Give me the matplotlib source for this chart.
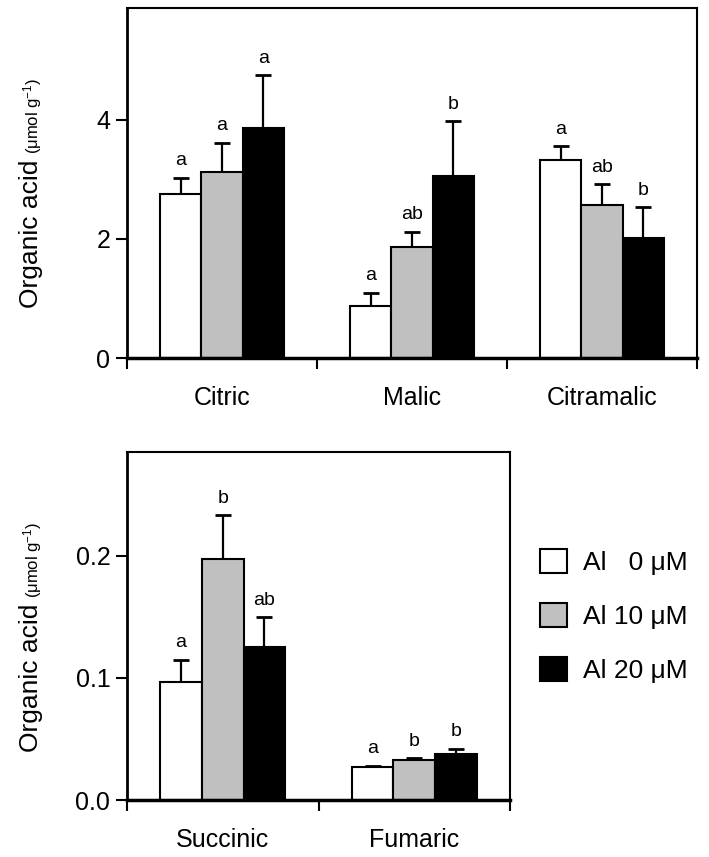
import matplotlib
matplotlib.use("Agg")
import matplotlib.pyplot as plt
from matplotlib.patches import Patch
import numpy as np

plt.rcParams['font.family'] = ['Liberation Sans', 'DejaVu Sans']
plt.rcParams['mathtext.fontset'] = 'custom'
plt.rcParams['mathtext.rm'] = 'Liberation Sans'

# ---------------- data ----------------
top_categories = ["Citric", "Malic", "Citramalic"]
top_al0 = [2.75, 0.87, 3.32]
top_al10 = [3.13, 1.87, 2.57]
top_al20 = [3.87, 3.05, 2.02]
top_err0 = [0.28, 0.23, 0.24]
top_err10 = [0.49, 0.25, 0.35]
top_err20 = [0.88, 0.93, 0.51]
top_letters0 = ["a", "a", "a"]
top_letters10 = ["a", "ab", "ab"]
top_letters20 = ["a", "b", "b"]

bot_categories = ["Succinic", "Fumaric"]
bot_al0 = [0.097, 0.027]
bot_al10 = [0.197, 0.033]
bot_al20 = [0.125, 0.038]
bot_err0 = [0.018, 0.001]
bot_err10 = [0.036, 0.001]
bot_err20 = [0.025, 0.004]
bot_letters0 = ["a", "a"]
bot_letters10 = ["b", "b"]
bot_letters20 = ["ab", "b"]

series_labels = ["Al   0 \u03bcM", "Al 10 \u03bcM", "Al 20 \u03bcM"]
series_colors = ["white", "#c0c0c0", "black"]

top_yticks = [0, 2, 4]
top_yticklabels = ["0", "2", "4"]
bot_yticks = [0.0, 0.1, 0.2]
bot_yticklabels = ["0.0", "0.1", "0.2"]

W, H = 709, 857
fig = plt.figure(figsize=(W / 100, H / 100), dpi=100)

def px_axes(l, r, t, b):
    return fig.add_axes([l / W, 1 - b / H, (r - l) / W, (b - t) / H])

ax1 = px_axes(127, 697, 8, 358)
ax2 = px_axes(127, 510, 452, 800)

bw = 0.218
TICK_FS = 18
CAT_FS = 18
LET_FS = 14

def draw_panel(ax, cats, vals, errs, letters, ylim, yticks, yticklabels):
    x = np.arange(len(cats))
    offsets = [-bw, 0, bw]
    for v, e, lt, c, off in zip(vals, errs, letters, series_colors, offsets):
        xs = x + off
        ax.bar(xs, v, width=bw, color=c, edgecolor="black", linewidth=1.5, zorder=2)
        eb = ax.errorbar(xs, v, yerr=[np.zeros(len(v)), e], fmt="none", ecolor="black",
                         elinewidth=1.6, capsize=5.5, capthick=2.0, zorder=3)
        caplines = eb.lines[1]
        if len(caplines) == 2:
            caplines[0].set_visible(False)
        for xi, vi, ei, li in zip(xs, v, e, lt):
            ax.annotate(li, (xi, vi + ei), xytext=(0, 6), textcoords="offset points",
                        ha="center", va="bottom", fontsize=LET_FS)
    ax.set_xlim(-0.5, len(cats) - 0.5)
    ax.set_ylim(*ylim)
    ax.set_xticks(x)
    ax.set_xticklabels(cats, fontsize=CAT_FS)
    ax.tick_params(axis="x", which="major", length=0, pad=20)
    ax.set_xticks(np.arange(len(cats) + 1) - 0.5, minor=True)
    ax.tick_params(axis="x", which="minor", length=8, width=1.5, direction="out")
    ax.set_yticks(yticks)
    ax.set_yticklabels(yticklabels, fontsize=TICK_FS)
    ax.tick_params(axis="y", length=8, width=1.5, direction="out", pad=4)
    for s in ["top", "right"]:
        ax.spines[s].set_linewidth(1.5)
    ax.spines["left"].set_linewidth(2.0)
    ax.spines["bottom"].set_linewidth(2.5)

draw_panel(ax1, top_categories, [top_al0, top_al10, top_al20],
           [top_err0, top_err10, top_err20],
           [top_letters0, top_letters10, top_letters20],
           (0, 5.88), top_yticks, top_yticklabels)
draw_panel(ax2, bot_categories, [bot_al0, bot_al10, bot_al20],
           [bot_err0, bot_err10, bot_err20],
           [bot_letters0, bot_letters10, bot_letters20],
           (0, 0.285), bot_yticks, bot_yticklabels)

# y labels with two sizes
renderer = fig.canvas.get_renderer()
def ylabel(xpx, ybottom_px):
    t1 = fig.text(xpx / W, 1 - ybottom_px / H, "Organic acid", rotation=90,
                  rotation_mode="anchor", ha="left", va="baseline", fontsize=19)
    bb = t1.get_window_extent(renderer)
    ytop = bb.y1 + 6
    fig.text(xpx / W, ytop / H, "(\u03bcmol g$\\mathregular{^{-1}}$)", rotation=90,
             rotation_mode="anchor", ha="left", va="baseline", fontsize=12)

ylabel(38, 308)
ylabel(38, 752)

handles = [Patch(facecolor=c, edgecolor="black", linewidth=1.5) for c in series_colors]
fig.legend(handles, series_labels, loc="upper left",
           bbox_to_anchor=(540 / W, 1 - 549 / H), frameon=False, fontsize=19,
           handlelength=1.02, handleheight=1.02, handletextpad=0.6,
           labelspacing=1.07, borderpad=0, borderaxespad=0)

fig.savefig("out.png", dpi=100)
